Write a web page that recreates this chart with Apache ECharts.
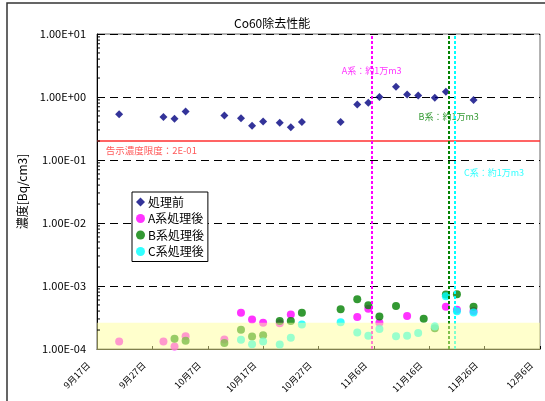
<!DOCTYPE html>
<html>
<head>
<meta charset="utf-8">
<script src="https://cdn.jsdelivr.net/npm/echarts@6/dist/echarts.min.js"></script>
<style>
  html, body { margin: 0; padding: 0; background: #fff; }
  #main { width: 545px; height: 401px; }
</style>
</head>
<body>
<div id="main"></div>
<script>

var FONT = '"Noto Sans CJK JP", "Liberation Sans", sans-serif';

// 処理前
var preDates = ['09-21','09-29','10-01','10-03','10-10','10-13','10-15','10-17','10-20','10-22','10-24',
    '10-31','11-03','11-05','11-07','11-10','11-12','11-14','11-17','11-19','11-24'];
var preVals = [0.53,0.48,0.45,0.59,0.51,0.46,0.35,0.41,0.39,0.33,0.40,
    0.40,0.76,0.81,1.0,1.46,1.10,1.06,0.97,1.21,0.90];

// A系処理後
var aDates = ['09-21','09-29','10-01','10-03','10-10','10-13','10-15','10-17','10-20','10-22',
    '11-03','11-05','11-07','11-12','11-19','11-21','11-24'];
var aVals = [1.32e-4,1.32e-4,1.10e-4,1.60e-4,1.42e-4,3.77e-4,2.95e-4,2.61e-4,2.57e-4,3.54e-4,
    3.21e-4,4.37e-4,2.61e-4,3.33e-4,4.70e-4,4.18e-4,4.0e-4];

// B系処理後
var bDates = ['10-01','10-03','10-10','10-13','10-15','10-17','10-20','10-22','10-24','10-31',
    '11-03','11-05','11-07','11-10','11-15','11-17','11-19','11-21','11-24'];
var bVals = [1.45e-4,1.35e-4,1.24e-4,2.02e-4,1.58e-4,1.66e-4,2.77e-4,2.77e-4,3.75e-4,4.26e-4,
    6.14e-4,4.93e-4,3.29e-4,4.80e-4,3.01e-4,2.14e-4,7.30e-4,7.4e-4,4.70e-4];

// C系処理後
var cDates = ['10-13','10-15','10-17','10-20','10-22','10-24','10-31','11-03','11-05','11-07',
    '11-10','11-12','11-14','11-17','11-19','11-21','11-24'];
var cVals = [1.40e-4,1.19e-4,1.32e-4,1.18e-4,1.51e-4,2.45e-4,2.67e-4,1.82e-4,1.63e-4,2.08e-4,
    1.60e-4,1.63e-4,1.79e-4,2.28e-4,6.85e-4,3.96e-4,3.81e-4];

// 告示濃度限度
var limitVal = 0.2;
var limitLabel = '告示濃度限度：2E-01';

// 通水量 約1万m3 到達 (9/17からの日数)
var mileNames = ['A系：約1万m3', 'B系：約1万m3', 'C系：約1万m3'];
var mileDays = [49.6, 63.5, 64.6];
var mileColors = ['#ff00ff', '#008000', '#00ffff'];
var mileLabelPos = [[49.6, 2.6], [63.5, 0.485], [71.7, 0.063]];

// 黄色帯 (検出下限付近)
var bandRange = [1e-4, 2.6e-4];

var seriesNames = ['処理前', 'A系処理後', 'B系処理後', 'C系処理後'];

var YEAR = 2013;
var base = Date.UTC(YEAR, 8, 17);
function toDay(s) {
    var p = s.split('-');
    return (Date.UTC(YEAR, +p[0] - 1, +p[1]) - base) / 86400000;
}
function pairs(dates, vals) {
    return dates.map(function (d, i) { return [toDay(d), vals[i]]; });
}
function fmtE(v) {
    var e = Math.round(Math.log10(v));
    var m = v / Math.pow(10, e);
    var s = Math.abs(e) < 10 ? '0' + Math.abs(e) : '' + Math.abs(e);
    return m.toFixed(2) + 'E' + (e < 0 ? '-' : '+') + s;
}
function fmtDate(d) {
    var dt = new Date(base + d * 86400000);
    return (dt.getUTCMonth() + 1) + '月' + dt.getUTCDate() + '日';
}

var minorVals = [];
for (var k = -4; k < 1; k++) {
    for (var j = 2; j <= 9; j++) minorVals.push([0, j * Math.pow(10, k)]);
}

var myChart = echarts.init(document.getElementById('main'));

var option = {
    backgroundColor: '#ffffff',
    animation: false,
    textStyle: { fontFamily: FONT },
    title: {
        text: 'Co60除去性能',
        left: 229,
        top: 12,
        textStyle: { fontSize: 12, fontWeight: 'normal', color: '#000', fontFamily: FONT }
    },
    graphic: [{
        type: 'rect',
        shape: { x: 7, y: 3, width: 545, height: 420 },
        style: { fill: null, stroke: '#333', lineWidth: 1.5 },
        silent: true
    }],
    legend: {
        orient: 'vertical',
        left: 132,
        top: 192,
        padding: [3, 4, 3, 4],
        itemGap: 2.5,
        itemWidth: 9,
        itemHeight: 9,
        backgroundColor: '#fff',
        borderColor: '#000',
        borderWidth: 1,
        borderRadius: 0,
        data: seriesNames,
        textStyle: { fontSize: 12, color: '#000', fontFamily: FONT, lineHeight: 14, padding: [0, 0, 0, -2] }
    },
    grid: {
        left: 97,
        right: 5,
        top: 34,
        bottom: 52,
        show: true,
        borderColor: '#666',
        borderWidth: 1
    },
    xAxis: {
        type: 'value',
        min: 0,
        max: 80,
        interval: 10,
        axisLine: { lineStyle: { color: '#000' } },
        axisTick: { inside: true, length: 3, lineStyle: { color: '#000' } },
        splitLine: { show: false },
        axisLabel: {
            rotate: 45,
            fontSize: 9,
            color: '#000',
            margin: 6,
            padding: [0, 12, 0, 0],
            fontFamily: FONT,
            formatter: fmtDate
        }
    },
    yAxis: {
        type: 'log',
        logBase: 10,
        min: 1e-4,
        max: 10,
        name: '濃度[Bq/cm3]',
        nameLocation: 'middle',
        nameGap: 60,
        nameTextStyle: { fontSize: 12, color: '#000', fontFamily: FONT },
        axisLine: { lineStyle: { color: '#000' } },
        axisTick: { inside: true, length: 5, lineStyle: { color: '#000' } },
        splitLine: { show: true, lineStyle: { color: '#000', type: [8, 5], width: 1 } },
        axisLabel: {
            fontSize: 11,
            color: '#000',
            margin: 11,
            fontFamily: FONT,
            formatter: fmtE
        }
    },
    series: [
        {
            name: '処理前',
            type: 'scatter',
            symbol: 'diamond',
            symbolSize: 8,
            itemStyle: { color: '#000080' },
            data: pairs(preDates, preVals),
            markLine: {
                silent: true,
                symbol: 'none',
                label: { show: false },
                data: [{ yAxis: limitVal, lineStyle: { color: '#ff3030', width: 1.5, type: 'solid', opacity: 1 } }]
                    .concat(mileDays.map(function (d, i) {
                        return { xAxis: d, lineStyle: { color: mileColors[i], width: 2, type: [3, 2], opacity: 1 } };
                    }))
            }
        },
        {
            name: 'A系処理後',
            type: 'scatter',
            symbol: 'circle',
            symbolSize: 8,
            itemStyle: { color: '#ff00ff' },
            data: pairs(aDates, aVals)
        },
        {
            name: 'B系処理後',
            type: 'scatter',
            symbol: 'circle',
            symbolSize: 8,
            itemStyle: { color: '#008000' },
            data: pairs(bDates, bVals)
        },
        {
            name: 'C系処理後',
            type: 'scatter',
            symbol: 'circle',
            symbolSize: 8,
            itemStyle: { color: '#00ffff' },
            data: pairs(cDates, cVals)
        },
        {
            name: 'labels',
            type: 'scatter',
            symbolSize: 0,
            silent: true,
            data: mileLabelPos.map(function (p, i) {
                return {
                    value: p,
                    label: {
                        show: true, position: 'inside', formatter: mileNames[i],
                        color: mileColors[i], fontSize: 9, fontFamily: FONT
                    }
                };
            }).concat([{
                value: [1.57, 0.141],
                label: {
                    show: true, position: 'right', distance: 0, formatter: limitLabel,
                    color: '#ff3030', fontSize: 9.5, fontFamily: FONT
                }
            }])
        },
        {
            name: 'band',
            type: 'custom',
            z: 10,
            silent: true,
            data: [[0, bandRange[0], 80, bandRange[1]]],
            renderItem: function (params, api) {
                var p1 = api.coord([api.value(0), api.value(1)]);
                var p2 = api.coord([api.value(2), api.value(3)]);
                return {
                    type: 'rect',
                    shape: { x: p1[0], y: p2[1], width: p2[0] - p1[0], height: p1[1] - p2[1] + 1 },
                    style: { fill: 'rgba(255,255,153,0.5)' }
                };
            }
        },
        {
            name: 'minorTicks',
            type: 'custom',
            z: 11,
            silent: true,
            data: minorVals,
            renderItem: function (params, api) {
                var p = api.coord([api.value(0), api.value(1)]);
                return {
                    type: 'line',
                    shape: { x1: p[0], y1: p[1], x2: p[0] + 3, y2: p[1] },
                    style: { stroke: '#000', lineWidth: 1 }
                };
            }
        }
    ]
};

myChart.setOption(option);
window.addEventListener("resize", function () {
    myChart.resize();
});
</script>
</body>
</html>
